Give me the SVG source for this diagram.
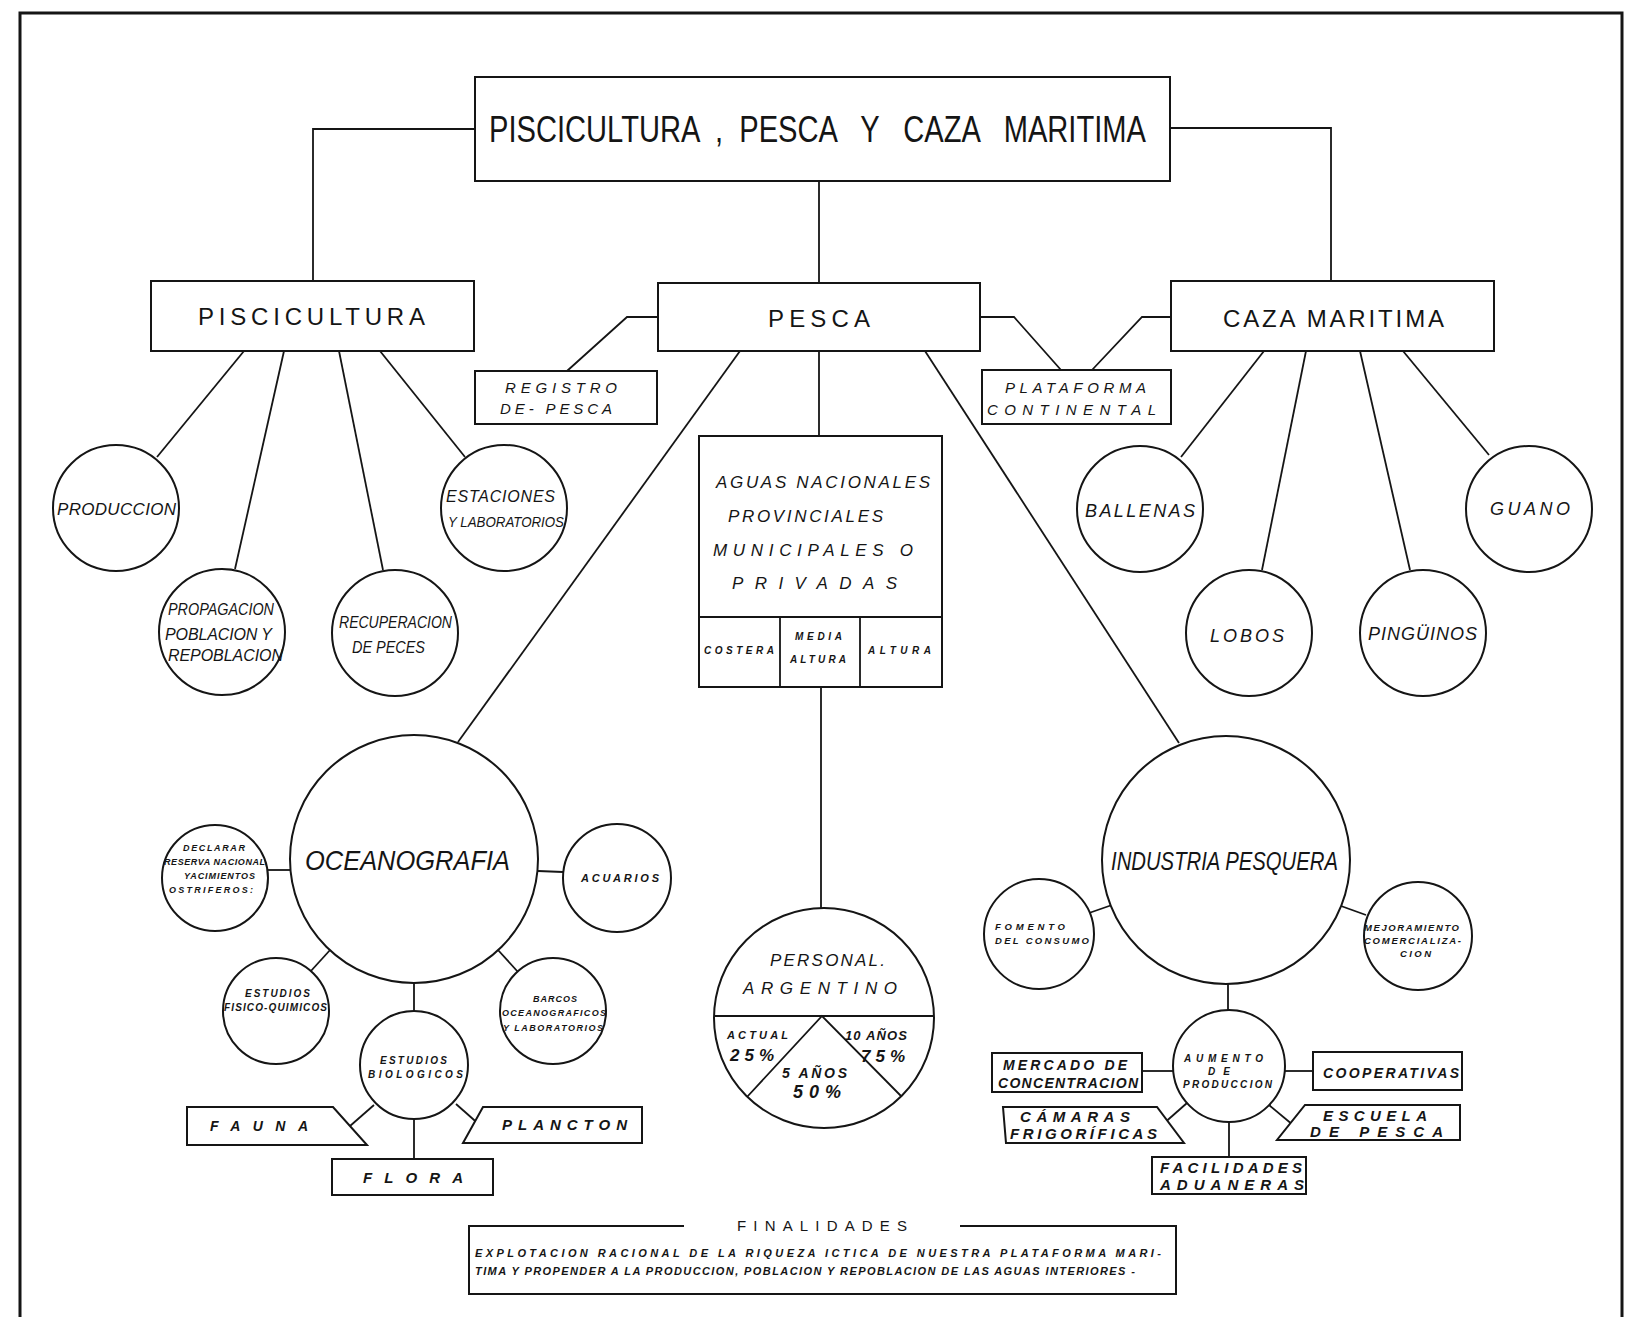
<svg xmlns="http://www.w3.org/2000/svg" width="1633" height="1317" viewBox="0 0 1633 1317">
<style>
.bx{fill:#fff;stroke:#151515;stroke-width:2}
.cn{fill:none;stroke:#151515;stroke-width:1.8}
.t{font-family:"Liberation Sans",Arial,sans-serif;fill:#151515}
.i{font-style:italic}
.b{font-weight:bold}
</style>
<rect width="1633" height="1317" fill="#fff"/>
<rect id="frame" x="20" y="13" width="1602" height="1340" fill="none" stroke="#151515" stroke-width="3"/>

<g id="connectors" class="cn">
<path d="M475,129 H313 V281"/>
<path d="M1170,128 H1331 V281"/>
<path d="M819,181 V283"/>
<path d="M658,317 H627 L567,371"/>
<path d="M980,317 H1014 L1061,370"/>
<path d="M1171,317 H1142 L1092,370"/>
<path d="M244,351 L157,457"/>
<path d="M284,351 L235,569"/>
<path d="M339,351 L383,570"/>
<path d="M380,351 L465,457"/>
<path d="M1264,351 L1181,457"/>
<path d="M1306,351 L1262,570"/>
<path d="M1360,351 L1410,570"/>
<path d="M1403,351 L1489,455"/>
<path d="M740,351 L458,742"/>
<path d="M819,351 V436"/>
<path d="M925,351 L1179,743"/>
<path d="M821,687 V908"/>
<path d="M267,870 H290"/>
<path d="M538,871 L563,872"/>
<path d="M310,972 L331,949"/>
<path d="M498,950 L518,972"/>
<path d="M414,983 V1011"/>
<path d="M374,1105 L350,1126"/>
<path d="M414,1119 V1159"/>
<path d="M456,1104 L482,1127"/>
<path d="M1089,913 L1112,905"/>
<path d="M1341,906 L1366,915"/>
<path d="M1228,984 V1010"/>
<path d="M1142,1071 H1173"/>
<path d="M1285,1071 H1313"/>
<path d="M1187,1103 L1162,1125"/>
<path d="M1269,1105 L1293,1125"/>
<path d="M1229,1122 V1157"/>
</g>

<g id="main">
<rect class="bx" x="475" y="77" width="695" height="104"/>
<text class="t" x="489" y="142" font-size="36" textLength="657" lengthAdjust="spacingAndGlyphs" xml:space="preserve" style="white-space:pre">PISCICULTURA  ,  PESCA   Y   CAZA   MARITIMA</text>
</g>

<g id="piscicultura">
<rect class="bx" x="151" y="281" width="323" height="70"/>
<text class="t" x="198" y="325" font-size="24" textLength="227">PISCICULTURA</text>
</g>
<g id="pesca">
<rect class="bx" x="658" y="283" width="322" height="68"/>
<text class="t" x="768" y="327" font-size="24" textLength="102">PESCA</text>
</g>
<g id="caza">
<rect class="bx" x="1171" y="281" width="323" height="70"/>
<text class="t" x="1223" y="327" font-size="24" textLength="221">CAZA MARITIMA</text>
</g>

<g id="registro">
<rect class="bx" x="475" y="371" width="182" height="53"/>
<text class="t i" x="505" y="393" font-size="15" textLength="112">REGISTRO</text>
<text class="t i" x="500" y="414" font-size="15" textLength="112">DE- PESCA</text>
</g>
<g id="plataforma">
<rect class="bx" x="982" y="370" width="189" height="54"/>
<text class="t i" x="1005" y="393" font-size="15" textLength="141">PLATAFORMA</text>
<text class="t i" x="987" y="415" font-size="15" textLength="169">CONTINENTAL</text>
</g>

<g id="produccion">
<circle class="bx" cx="116" cy="508" r="63"/>
<text class="t i" x="57" y="515" font-size="17" textLength="119">PRODUCCION</text>
</g>
<g id="propagacion">
<circle class="bx" cx="222" cy="632" r="63"/>
<text class="t i" x="168" y="615" font-size="16" textLength="106" lengthAdjust="spacingAndGlyphs">PROPAGACION</text>
<text class="t i" x="165" y="640" font-size="16" textLength="107">POBLACION Y</text>
<text class="t i" x="168" y="661" font-size="16" textLength="115">REPOBLACION</text>
</g>
<g id="recuperacion">
<circle class="bx" cx="395" cy="633" r="63"/>
<text class="t i" x="339" y="628" font-size="16" textLength="113" lengthAdjust="spacingAndGlyphs">RECUPERACION</text>
<text class="t i" x="352" y="653" font-size="16" textLength="73" lengthAdjust="spacingAndGlyphs">DE PECES</text>
</g>
<g id="estaciones">
<circle class="bx" cx="504" cy="508" r="63"/>
<text class="t i" x="446" y="502" font-size="16" textLength="109">ESTACIONES</text>
<text class="t i" x="448" y="527" font-size="15" textLength="116" lengthAdjust="spacingAndGlyphs">Y LABORATORIOS</text>
</g>

<g id="ballenas">
<circle class="bx" cx="1140" cy="509" r="63"/>
<text class="t i" x="1085" y="517" font-size="18" textLength="110">BALLENAS</text>
</g>
<g id="lobos">
<circle class="bx" cx="1249" cy="633" r="63"/>
<text class="t i" x="1210" y="642" font-size="18" textLength="74">LOBOS</text>
</g>
<g id="pinguinos">
<circle class="bx" cx="1423" cy="633" r="63"/>
<text class="t i" x="1368" y="640" font-size="18" textLength="109">PINGÜINOS</text>
</g>
<g id="guano">
<circle class="bx" cx="1529" cy="509" r="63"/>
<text class="t i" x="1490" y="515" font-size="18" textLength="80">GUANO</text>
</g>

<g id="aguas">
<rect class="bx" x="699" y="436" width="243" height="251"/>
<path class="cn" d="M699,617 H942 M780,617 V687 M860,617 V687"/>
<text class="t i" x="716" y="488" font-size="17" textLength="214">AGUAS NACIONALES</text>
<text class="t i" x="728" y="522" font-size="17" textLength="155">PROVINCIALES</text>
<text class="t i" x="713" y="556" font-size="17" textLength="200">MUNICIPALES O</text>
<text class="t i" x="732" y="589" font-size="17" textLength="165">PRIVADAS</text>
<text class="t i b" x="704" y="654" font-size="10" textLength="70">COSTERA</text>
<text class="t i b" x="795" y="640" font-size="10" textLength="47">MEDIA</text>
<text class="t i b" x="790" y="663" font-size="10" textLength="56">ALTURA</text>
<text class="t i b" x="868" y="654" font-size="10" textLength="63">ALTURA</text>
</g>

<g id="personal">
<circle class="bx" cx="824" cy="1018" r="110"/>
<path class="cn" d="M714,1016 H934 M747,1097 L822,1016 L901,1096"/>
<text class="t i" x="770" y="966" font-size="17" textLength="115">PERSONAL.</text>
<text class="t i" x="743" y="994" font-size="17" textLength="154">ARGENTINO</text>
<text class="t i b" x="727" y="1039" font-size="11" textLength="61">ACTUAL</text>
<text class="t i b" x="730" y="1061" font-size="17" textLength="44">25%</text>
<text class="t i b" x="845" y="1040" font-size="13" textLength="62">10 AÑOS</text>
<text class="t i b" x="861" y="1062" font-size="17" textLength="44">75%</text>
<text class="t i b" x="782" y="1078" font-size="14" textLength="65">5 AÑOS</text>
<text class="t i b" x="793" y="1098" font-size="18" textLength="48">50%</text>
</g>

<g id="oceanografia">
<circle class="bx" cx="414" cy="859" r="124"/>
<text class="t i" x="305" y="870" font-size="28" textLength="205" lengthAdjust="spacingAndGlyphs">OCEANOGRAFIA</text>
</g>
<g id="declarar">
<circle class="bx" cx="215" cy="878" r="53"/>
<text class="t i b" x="183" y="851" font-size="9" textLength="62">DECLARAR</text>
<text class="t i b" x="164" y="865" font-size="9" textLength="101">RESERVA NACIONAL</text>
<text class="t i b" x="184" y="879" font-size="9" textLength="71">YACIMIENTOS</text>
<text class="t i b" x="169" y="893" font-size="9" textLength="84">OSTRIFEROS:</text>
</g>
<g id="acuarios">
<circle class="bx" cx="617" cy="878" r="54"/>
<text class="t i b" x="581" y="882" font-size="11" textLength="78">ACUARIOS</text>
</g>
<g id="fisicoquimicos">
<circle class="bx" cx="276" cy="1011" r="53"/>
<text class="t i b" x="245" y="997" font-size="10" textLength="65">ESTUDIOS</text>
<text class="t i b" x="224" y="1011" font-size="10" textLength="103">FISICO-QUIMICOS</text>
</g>
<g id="barcos">
<circle class="bx" cx="553" cy="1011" r="53"/>
<text class="t i b" x="533" y="1002" font-size="9" textLength="44">BARCOS</text>
<text class="t i b" x="502" y="1016" font-size="9" textLength="104">OCEANOGRAFICOS</text>
<text class="t i b" x="503" y="1031" font-size="9" textLength="100">Y LABORATORIOS</text>
</g>
<g id="biologicos">
<circle class="bx" cx="414" cy="1065" r="54"/>
<text class="t i b" x="380" y="1064" font-size="10" textLength="67">ESTUDIOS</text>
<text class="t i b" x="368" y="1078" font-size="10" textLength="95">BIOLOGICOS</text>
</g>
<g id="fauna">
<path class="bx" d="M187,1107 H333 L367,1145 H187 Z"/>
<text class="t i b" x="210" y="1131" font-size="14" textLength="98">FAUNA</text>
</g>
<g id="plancton">
<path class="bx" d="M483,1107 H642 V1143 H463 Z"/>
<text class="t i b" x="502" y="1130" font-size="15" textLength="125">PLANCTON</text>
</g>
<g id="flora">
<rect class="bx" x="332" y="1159" width="161" height="36"/>
<text class="t i b" x="363" y="1183" font-size="15" textLength="100">FLORA</text>
</g>

<g id="industria">
<circle class="bx" cx="1226" cy="860" r="124"/>
<text class="t i" x="1111" y="870" font-size="25" textLength="227" lengthAdjust="spacingAndGlyphs">INDUSTRIA PESQUERA</text>
</g>
<g id="fomento">
<circle class="bx" cx="1039" cy="934" r="55"/>
<text class="t i b" x="995" y="930" font-size="9.5" textLength="70">FOMENTO</text>
<text class="t i b" x="995" y="944" font-size="9.5" textLength="94">DEL CONSUMO</text>
</g>
<g id="mejoramiento">
<circle class="bx" cx="1418" cy="936" r="54"/>
<text class="t i b" x="1364" y="931" font-size="9.5" textLength="95">MEJORAMIENTO</text>
<text class="t i b" x="1364" y="944" font-size="9.5" textLength="97">COMERCIALIZA-</text>
<text class="t i b" x="1400" y="957" font-size="9.5" textLength="31">CION</text>
</g>
<g id="aumento">
<circle class="bx" cx="1229" cy="1066" r="56"/>
<text class="t i b" x="1184" y="1062" font-size="10" textLength="79">AUMENTO</text>
<text class="t i b" x="1208" y="1075" font-size="10" textLength="22">DE</text>
<text class="t i b" x="1183" y="1088" font-size="10" textLength="89">PRODUCCION</text>
</g>
<g id="mercado">
<rect class="bx" x="992" y="1053" width="150" height="39"/>
<text class="t i b" x="1003" y="1070" font-size="14" textLength="124">MERCADO DE</text>
<text class="t i b" x="998" y="1088" font-size="14" textLength="140">CONCENTRACION</text>
</g>
<g id="cooperativas">
<rect class="bx" x="1313" y="1052" width="149" height="38"/>
<text class="t i b" x="1323" y="1078" font-size="14" textLength="136">COOPERATIVAS</text>
</g>
<g id="camaras">
<path class="bx" d="M1003,1107 H1157 L1184,1143 H1006 Z"/>
<text class="t i b" x="1020" y="1122" font-size="15" textLength="110">CÁMARAS</text>
<text class="t i b" x="1010" y="1139" font-size="15" textLength="147">FRIGORÍFICAS</text>
</g>
<g id="escuela">
<path class="bx" d="M1305,1105 H1460 V1140 H1277 Z"/>
<text class="t i b" x="1323" y="1121" font-size="15" textLength="104">ESCUELA</text>
<text class="t i b" x="1310" y="1137" font-size="15" textLength="133">DE PESCA</text>
</g>
<g id="facilidades">
<rect class="bx" x="1152" y="1157" width="154" height="37"/>
<text class="t i b" x="1160" y="1173" font-size="15" textLength="142">FACILIDADES</text>
<text class="t i b" x="1160" y="1190" font-size="15" textLength="144">ADUANERAS</text>
</g>

<g id="finalidades">
<path class="bx" fill="none" d="M684,1226 H469 V1294 H1176 V1226 H960"/>
<text class="t" x="737" y="1231" font-size="15" textLength="170">FINALIDADES</text>
<text class="t i b" x="475" y="1257" font-size="11" textLength="686">EXPLOTACION RACIONAL DE LA RIQUEZA ICTICA DE NUESTRA PLATAFORMA MARI-</text>
<text class="t i b" x="475" y="1275" font-size="11" textLength="660">TIMA Y PROPENDER A LA PRODUCCION, POBLACION Y REPOBLACION DE LAS AGUAS INTERIORES -</text>
</g>
</svg>
